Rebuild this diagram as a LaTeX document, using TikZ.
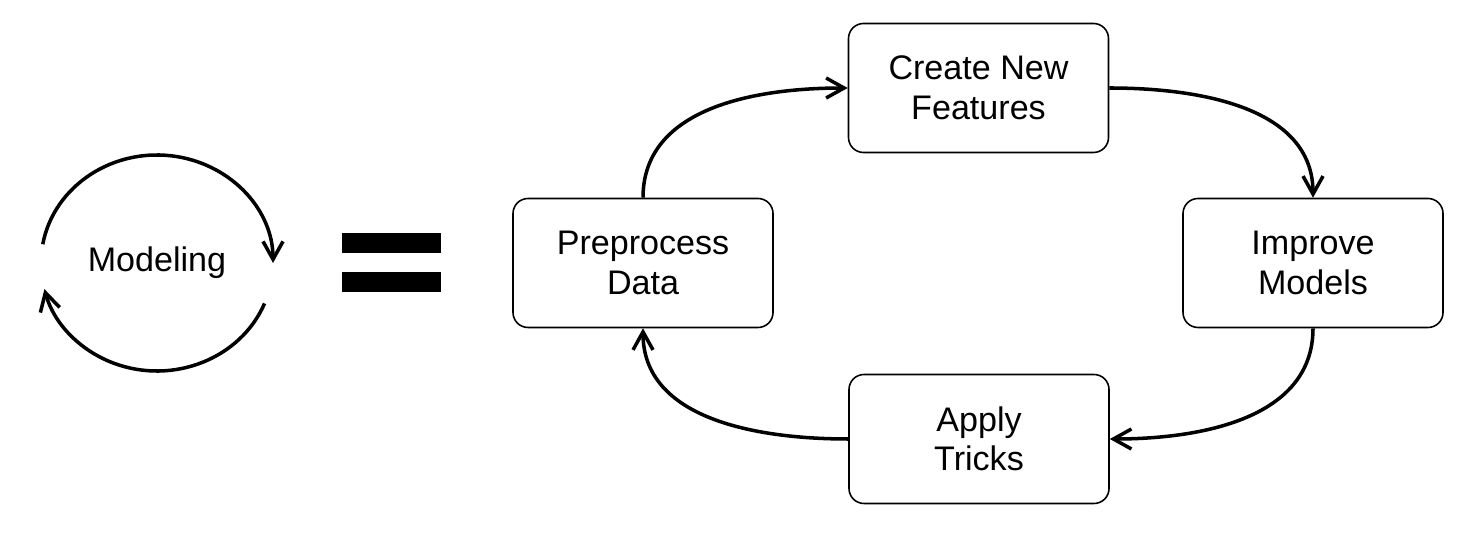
\documentclass[tikz,border=0pt]{standalone}
\usepackage{fontspec}
\setmainfont{Liberation Sans}
\usetikzlibrary{arrows.meta,positioning}
\tikzset{
	box/.style={draw,rectangle,rounded corners=0.3cm,line width=0.9pt,align=center,minimum width=5.2cm,minimum height=2.58cm,font=\fontsize{19.4}{22.5}\selectfont},
	flow/.style={line width=2pt,-{Straight Barb[length=3.6mm,width=4mm,line width=2pt]}},
	bar/.style={fill=black}
}
\begin{document}
\begin{tikzpicture}
	\useasboundingbox (0,0) rectangle (29.48,10.8);
	\node[font=\fontsize{19.4}{22.5}\selectfont] (model) at (3.14,5.54) {Modeling};
	\draw[flow] ([shift={(170:2.32 and 2.16)}]model.center) arc[start angle=170,end angle=0,x radius=2.32,y radius=2.16];
	\draw[flow] ([shift={(-22:2.32 and 2.16)}]model.center) arc[start angle=-22,end angle=-166,x radius=2.32,y radius=2.16];

	\fill[bar] (6.84,5.74) rectangle (8.82,6.14);
	\fill[bar] (6.84,4.96) rectangle (8.82,5.36);

	\node[box] (prep) at (12.86,5.54) {Preprocess\\Data};
	\node[box] (feat) at (19.57,9.04) {Create New\\Features};
	\node[box] (impr) at (26.26,5.54) {Improve\\Models};
	\node[box] (trick) at (19.58,2.02) {Apply\\Tricks};

	\draw[flow] (prep.north) to[out=90,in=180] (feat.west);
	\draw[flow] (feat.east) to[out=0,in=90] (impr.north);
	\draw[flow] (impr.south) to[out=-90,in=0] (trick.east);
	\draw[flow] (trick.west) to[out=180,in=-90] (prep.south);
\end{tikzpicture}
\end{document}
